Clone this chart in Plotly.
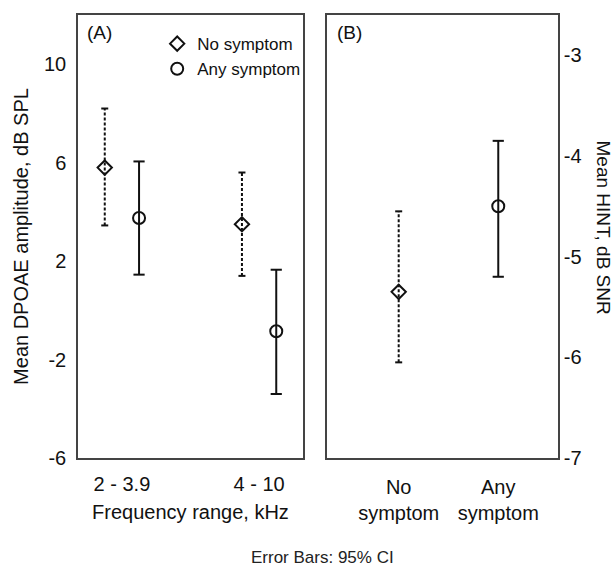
import plotly.graph_objects as go

# ---- data ----
freq_ranges = ["2 - 3.9", "4 - 10"]
dpoae_no_mean = [5.8, 3.5]
dpoae_no_lo = [3.45, 1.4]
dpoae_no_hi = [8.2, 5.6]
dpoae_any_mean = [3.75, -0.85]
dpoae_any_lo = [1.45, -3.4]
dpoae_any_hi = [6.05, 1.65]

hint_groups = ["No<br>symptom", "Any<br>symptom"]
hint_mean = [-5.35, -4.5]
hint_lo = [-6.05, -5.2]
hint_hi = [-4.55, -3.85]

left_ticks = [-6, -2, 2, 6, 10]
right_ticks = [-7, -6, -5, -4, -3]

FONT = "Liberation Sans, Arial, sans-serif"
INK = "#111111"
BOX = "#444444"

fig = go.Figure()


def bar_trace(xs, lo, hi, dash, capsize, xaxis, yaxis):
    X, Y = [], []
    for x, l, h in zip(xs, lo, hi):
        X += [x, x, None]
        Y += [l, h, None]
    fig.add_trace(go.Scatter(
        x=X, y=Y, mode="lines+markers", xaxis=xaxis, yaxis=yaxis,
        line=dict(color=INK, width=2, dash=dash),
        marker=dict(symbol="line-ew-open", size=capsize,
                    line=dict(color=INK, width=2)),
        showlegend=False, hoverinfo="skip"))


def point_trace(xs, ys, symbol, size, name, xaxis, yaxis, legend):
    fig.add_trace(go.Scatter(
        x=xs, y=ys, mode="markers", name=name, xaxis=xaxis, yaxis=yaxis,
        marker=dict(symbol=symbol, size=size, color=INK,
                    line=dict(color=INK, width=2)),
        showlegend=legend))


DOTTED = "3px,2px"
off = 0.125
idx = list(range(len(freq_ranges)))
xa_no = [i - off for i in idx]
xa_any = [i + off for i in idx]

bar_trace(xa_no, dpoae_no_lo, dpoae_no_hi, DOTTED, 5, "x", "y")
bar_trace(xa_any, dpoae_any_lo, dpoae_any_hi, "solid", 8, "x", "y")
point_trace(xa_no, dpoae_no_mean, "diamond-open", 11, "No symptom", "x", "y", True)
point_trace(xa_any, dpoae_any_mean, "circle-open", 12, "Any symptom", "x", "y", True)

bidx = list(range(len(hint_groups)))
bar_trace([bidx[0]], [hint_lo[0]], [hint_hi[0]], DOTTED, 5, "x2", "y2")
bar_trace([bidx[1]], [hint_lo[1]], [hint_hi[1]], "solid", 8, "x2", "y2")
point_trace([bidx[0]], [hint_mean[0]], "diamond-open", 11, "No symptom", "x2", "y2", False)
point_trace([bidx[1]], [hint_mean[1]], "circle-open", 12, "Any symptom", "x2", "y2", False)

axis_common = dict(showline=True, mirror=True, linecolor=BOX, linewidth=1.5,
                   showgrid=False, zeroline=False, ticks="",
                   tickfont=dict(family=FONT, size=20, color=INK))

fig.update_layout(
    width=616, height=567,
    margin=dict(l=78, r=58, t=15, b=109),
    paper_bgcolor="white", plot_bgcolor="white",
    font=dict(family=FONT, color=INK),
    xaxis=dict(domain=[0, 0.46875], range=[-0.32, 1.32],
               tickvals=idx, ticktext=freq_ranges, ticklabelstandoff=7,
               title=dict(text="Frequency range, kHz",
                          font=dict(family=FONT, size=20, color=INK), standoff=11),
               **axis_common),
    yaxis=dict(range=[-6, 12], tickvals=left_ticks,
               ticktext=[str(v) for v in left_ticks], anchor="x",
               ticklabelstandoff=6,
               title=dict(text="Mean DPOAE amplitude, dB SPL",
                          font=dict(family=FONT, size=20, color=INK), standoff=10),
               **axis_common),
    xaxis2=dict(domain=[0.51875, 1], range=[-0.72, 1.6], anchor="y2",
                tickvals=bidx, ticktext=hint_groups, ticklabelstandoff=10,
                **axis_common),
    yaxis2=dict(range=[-7, -2.6], tickvals=right_ticks,
                ticktext=[str(v) for v in right_ticks], anchor="x2",
                side="right", ticklabelstandoff=0, **axis_common),
    legend=dict(x=0.165, y=0.975, xanchor="left", yanchor="top",
                bgcolor="rgba(0,0,0,0)", itemwidth=30, tracegroupgap=0,
                font=dict(family=FONT, size=17, color=INK)),
    showlegend=True,
)

fig.add_annotation(text="(A)", xref="x domain", yref="y domain", x=0.03, y=0.96,
                   xanchor="left", yanchor="middle", showarrow=False,
                   font=dict(family=FONT, size=19, color=INK))
fig.add_annotation(text="(B)", xref="x2 domain", yref="y2 domain", x=0.035, y=0.96,
                   xanchor="left", yanchor="middle", showarrow=False,
                   font=dict(family=FONT, size=19, color=INK))
fig.add_annotation(text="Mean HINT, dB SNR", xref="paper", yref="paper",
                   x=1.094, y=0.52, xanchor="center", yanchor="middle",
                   textangle=90, showarrow=False,
                   font=dict(family=FONT, size=19, color=INK))
fig.add_annotation(text="Error Bars: 95% CI", xref="paper", yref="paper",
                   x=0.51, y=-0.2235, xanchor="center", yanchor="middle",
                   showarrow=False,
                   font=dict(family=FONT, size=17, color="#222222"))

fig.write_html("out.html", config={"displayModeBar": False},
               post_script="document.body.style.margin='0';")
